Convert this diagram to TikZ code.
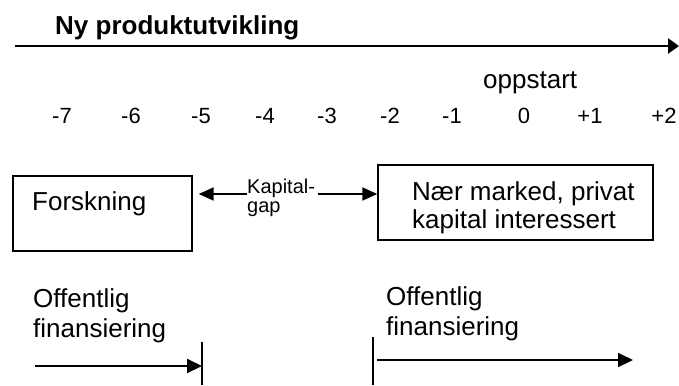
\documentclass[tikz,border=0pt]{standalone}
\usepackage{fontspec}
\setmainfont{Liberation Sans}[Ligatures={NoCommon}]
\usetikzlibrary{arrows.meta}
\begin{document}
\begin{tikzpicture}[x=1bp,y=-1bp,
  txt/.style={inner sep=0pt,anchor=base west,font=\fontsize{26bp}{30bp}\selectfont,align=left},
  num/.style={inner sep=0pt,anchor=base,font=\fontsize{22bp}{26bp}\selectfont},
  gaptxt/.style={inner sep=0pt,anchor=base west,font=\fontsize{20bp}{19bp}\selectfont,align=left},
  box/.style={draw,line width=1.4bp,inner sep=0pt},
  mainarr/.style={line width=2.5bp,-{Triangle[length=11bp,width=15bp]}},
  arr/.style={line width=2bp,-{Triangle[length=15bp,width=13bp]}},
  finarr/.style={line width=2bp,-{Triangle[length=15bp,width=14bp]}},
  bar/.style={line width=1.4bp}]
\useasboundingbox (0,0) rectangle (679,385);

% timeline
\node[txt,font=\fontsize{26bp}{30bp}\selectfont\bfseries] (title) at (55,34) {Ny produktutvikling};
\coordinate (tl0) at (15,46);
\coordinate (tl1) at (679,46);
\draw[mainarr] (tl0) -- (tl1);

\node[txt] (start) at (483,88) {oppstart};
\foreach \lab/\xx [count=\i] in {-7/62,-6/131,-5/201,-4/265,-3/327,-2/390,-1/452,0/524,+1/590,+2/664}
  \node[num] (n\i) at (\xx,123) {\lab};

% phases (multi-line nodes are placed by the baseline of their last line)
\node[box,minimum width=179bp,minimum height=75bp] (forsk) at (102.5,213.5) {};
\node[txt] (forsktxt) at (32,210) {Forskning};

\node[box,minimum width=275bp,minimum height=75bp] (marked) at (515.5,202.5) {};
\node[txt,font=\fontsize{26bp}{28bp}\selectfont] (markedtxt) at (412,228) {Nær marked, privat\\kapital interessert};

\node[gaptxt] (gap) at (247,212) {Kapital-\\gap};
\coordinate (gapl) at (247,194);
\coordinate (gapr) at (318,194);
\draw[arr,shorten >=6bp] (gapl) -- (forsk.east |- gapl);
\draw[arr] (gapr) -- (marked.west |- gapr);

% public funding
\node[txt] (off1) at (33,337) {Offentlig\\finansiering};
\node[txt] (off2) at (386,335) {Offentlig\\finansiering};

\coordinate (b1t) at (202,342);
\coordinate (b1b) at (202,385);
\coordinate (b2t) at (373,337);
\coordinate (b2b) at (373,385);
\draw[bar] (b1t) -- (b1b);
\draw[bar] (b2t) -- (b2b);

\coordinate (f1) at (35,366);
\coordinate (f2s) at (377,360);
\coordinate (f2e) at (633,360);
\draw[finarr] (f1) -- (b1t |- f1);
\draw[finarr] (f2s) -- (f2e);
\end{tikzpicture}
\end{document}
